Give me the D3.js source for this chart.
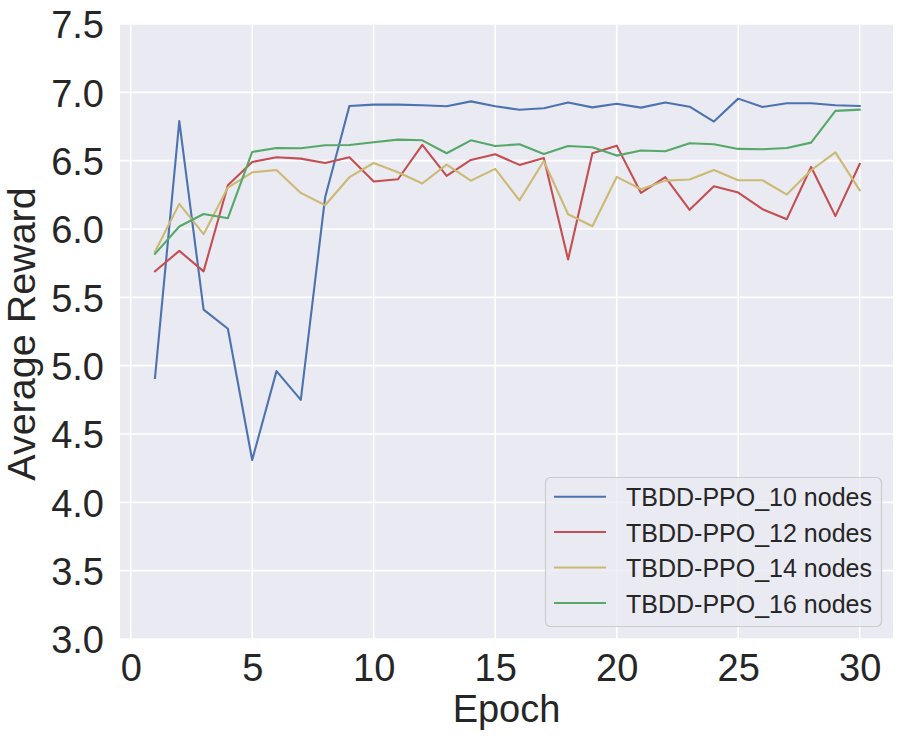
<!DOCTYPE html>
<html>
<head>
<meta charset="utf-8">
<script src="https://cdn.jsdelivr.net/npm/d3@7"></script>
<style>
  html, body { margin: 0; padding: 0; background: #ffffff; }
  svg { display: block; font-family: "Liberation Sans", Arial, sans-serif; }
</style>
</head>
<body>
<svg id="chart" width="903" height="740"></svg>
<script>
const epochs = d3.range(1, 31);
const seriesNames = ["TBDD-PPO_10 nodes", "TBDD-PPO_12 nodes", "TBDD-PPO_14 nodes", "TBDD-PPO_16 nodes"];
const nodes10 = [4.91, 6.79, 5.41, 5.27, 4.31, 4.96, 4.75, 6.23, 6.90, 6.91, 6.91, 6.905, 6.898, 6.934, 6.898, 6.873, 6.883, 6.925, 6.89, 6.917, 6.888, 6.925, 6.895, 6.786, 6.954, 6.893, 6.92, 6.92, 6.905, 6.90];
const nodes12 = [5.69, 5.84, 5.69, 6.32, 6.49, 6.525, 6.515, 6.483, 6.525, 6.347, 6.364, 6.615, 6.388, 6.505, 6.547, 6.469, 6.52, 5.777, 6.554, 6.61, 6.264, 6.379, 6.14, 6.313, 6.267, 6.145, 6.072, 6.454, 6.094, 6.476];
const nodes14 = [5.833, 6.184, 5.962, 6.303, 6.415, 6.432, 6.264, 6.174, 6.379, 6.483, 6.415, 6.333, 6.471, 6.354, 6.44, 6.21, 6.498, 6.108, 6.02, 6.381, 6.291, 6.354, 6.362, 6.432, 6.357, 6.357, 6.252, 6.43, 6.561, 6.284];
const nodes16 = [5.818, 6.018, 6.11, 6.079, 6.564, 6.593, 6.591, 6.613, 6.615, 6.635, 6.654, 6.649, 6.554, 6.649, 6.607, 6.62, 6.549, 6.607, 6.598, 6.537, 6.574, 6.569, 6.627, 6.62, 6.586, 6.583, 6.593, 6.632, 6.864, 6.873];
const xTicks = [0, 5, 10, 15, 20, 25, 30];
const yTicks = [3.0, 3.5, 4.0, 4.5, 5.0, 5.5, 6.0, 6.5, 7.0, 7.5];
const colors = ["#4C72B0", "#C44E52", "#CCB974", "#55A868"];
const xLabel = "Epoch";
const yLabel = "Average Reward";

const allSeries = [nodes10, nodes12, nodes14, nodes16];

const svg = d3.select("#chart");
const plot = { left: 120, right: 893, top: 24, bottom: 639 };

const x = d3.scaleLinear().domain([-0.44, 31.37]).range([plot.left, plot.right]);
const y = d3.scaleLinear().domain([3.0, 7.5]).range([plot.bottom, plot.top]);

// background
svg.append("rect")
  .attr("x", plot.left).attr("y", plot.top)
  .attr("width", plot.right - plot.left).attr("height", plot.bottom - plot.top)
  .attr("fill", "#EAEAF2");

// grid
const grid = svg.append("g");
grid.selectAll(".gx").data(xTicks).join("line")
  .attr("x1", d => x(d)).attr("x2", d => x(d))
  .attr("y1", plot.top).attr("y2", plot.bottom)
  .attr("stroke", "#ffffff").attr("stroke-width", 1.6);
grid.selectAll(".gy").data(yTicks).join("line")
  .attr("x1", plot.left).attr("x2", plot.right)
  .attr("y1", d => y(d)).attr("y2", d => y(d))
  .attr("stroke", "#ffffff").attr("stroke-width", 1.6);

// axes via d3
const xAxis = d3.axisBottom(x).tickValues(xTicks).tickSize(0).tickPadding(0).tickFormat(d3.format("d"));
const gx = svg.append("g").attr("transform", `translate(0,${plot.bottom})`).call(xAxis);
gx.select(".domain").remove();
gx.selectAll("text")
  .attr("dy", null)
  .attr("y", 41.8)
  .attr("fill", "#262626")
  .style("font-size", "38px")
  .style("font-family", "'Liberation Sans', Arial, sans-serif");

const yAxis = d3.axisLeft(y).tickValues(yTicks).tickSize(0).tickPadding(0).tickFormat(d3.format(".1f"));
const gy = svg.append("g").attr("transform", `translate(${plot.left},0)`).call(yAxis);
gy.select(".domain").remove();
gy.selectAll("text")
  .attr("dy", null)
  .attr("x", -16)
  .attr("y", 13.7)
  .attr("fill", "#262626")
  .style("font-size", "38px")
  .style("font-family", "'Liberation Sans', Arial, sans-serif");

// lines
const line = d3.line().x((d, i) => x(epochs[i])).y(d => y(d));
svg.append("g").selectAll("path").data(allSeries).join("path")
  .attr("d", d => line(d))
  .attr("fill", "none")
  .attr("stroke", (d, i) => colors[i])
  .attr("stroke-width", 2.1)
  .attr("stroke-linejoin", "round")
  .attr("stroke-linecap", "square");

// axis labels
svg.append("text")
  .attr("x", (plot.left + plot.right) / 2)
  .attr("y", 722)
  .attr("text-anchor", "middle")
  .attr("fill", "#262626")
  .style("font-size", "38px")
  .text(xLabel);

svg.append("text")
  .attr("transform", `translate(35,334) rotate(-90)`)
  .attr("text-anchor", "middle")
  .attr("fill", "#262626")
  .style("font-size", "39.5px")
  .text(yLabel);

// legend
const legend = svg.append("g");
legend.append("rect")
  .attr("x", 545.5).attr("y", 477.5)
  .attr("width", 336).attr("height", 149)
  .attr("rx", 5).attr("ry", 5)
  .attr("fill", "#EAEAF2").attr("fill-opacity", 0.8)
  .attr("stroke", "#CCCCCC").attr("stroke-width", 1.2);
const rowY = [496.7, 532, 567.5, 603];
const items = legend.selectAll(".item").data(seriesNames).join("g");
items.append("line")
  .attr("x1", 554).attr("x2", 606)
  .attr("y1", (d, i) => rowY[i]).attr("y2", (d, i) => rowY[i])
  .attr("stroke", (d, i) => colors[i]).attr("stroke-width", 2);
items.append("text")
  .attr("x", 626)
  .attr("y", (d, i) => rowY[i] + 9.5)
  .attr("fill", "#262626")
  .style("font-size", "25px")
  .text(d => d);
</script>
</body>
</html>
